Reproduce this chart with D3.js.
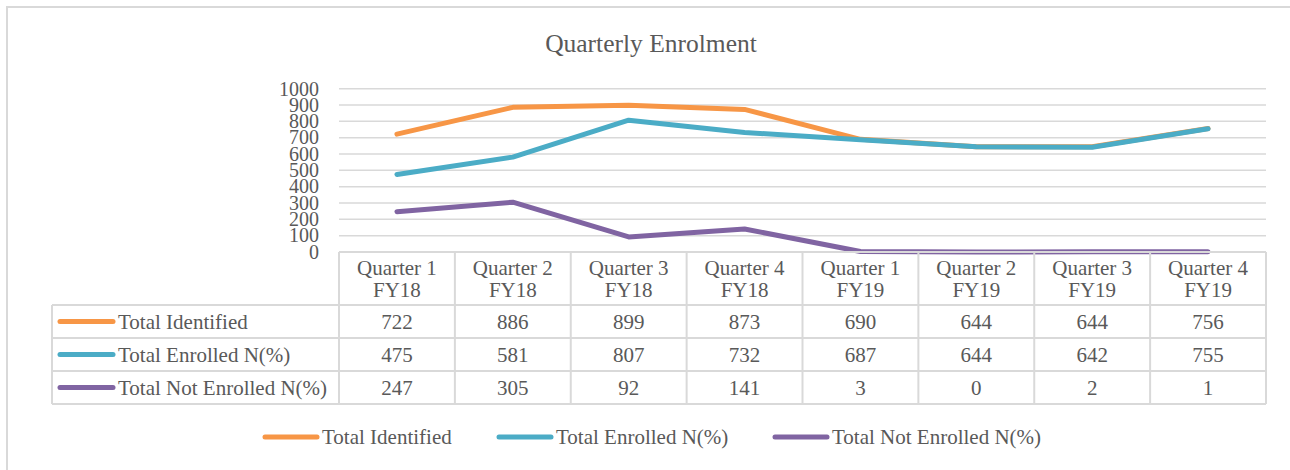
<!DOCTYPE html>
<html>
<head>
<meta charset="utf-8">
<script src="https://cdn.jsdelivr.net/npm/d3@7"></script>
<style>
  body { margin: 0; background: #fff; }
  svg { font-family: "Liberation Serif", "Times New Roman", serif; }
  text { fill: #595959; }
</style>
</head>
<body>
<svg class="chart" width="1290" height="470"></svg>
<script>
const quarters = ['Quarter 1', 'Quarter 2', 'Quarter 3', 'Quarter 4', 'Quarter 1', 'Quarter 2', 'Quarter 3', 'Quarter 4'];
const years = ['FY18', 'FY18', 'FY18', 'FY18', 'FY19', 'FY19', 'FY19', 'FY19'];
const categories = quarters.map((q, i) => q + ' ' + years[i]);

const seriesNames = ['Total Identified', 'Total Enrolled N(%)', 'Total Not Enrolled N(%)'];
const identified = [722, 886, 899, 873, 690, 644, 644, 756];
const enrolled = [475, 581, 807, 732, 687, 644, 642, 755];
const notEnrolled = [247, 305, 92, 141, 3, 0, 2, 1];
const yTicks = [0, 100, 200, 300, 400, 500, 600, 700, 800, 900, 1000];

const colors = ['#f79646', '#4bacc6', '#8064a2'];
const series = seriesNames.map((name, i) => ({ name, values: [identified, enrolled, notEnrolled][i], color: colors[i] }));

const svg = d3.select('.chart');
const grid = '#d9d9d9';

// outer frame
svg.append('rect')
  .attr('x', 7).attr('y', 7)
  .attr('width', 1300).attr('height', 480)
  .attr('fill', 'none').attr('stroke', grid).attr('stroke-width', 2);

svg.append('text')
  .attr('x', 651).attr('y', 52)
  .attr('text-anchor', 'middle')
  .style('font-size', '25.5px')
  .text('Quarterly Enrolment');

const x = d3.scaleBand().domain(categories).range([339, 1266]);
const y = d3.scaleLinear().domain([0, 1000]).range([252, 88.7]);

// gridlines + tick labels
svg.append('g')
  .selectAll('line')
  .data(yTicks.slice(1))
  .enter()
  .append('line')
  .attr('x1', 339).attr('x2', 1266)
  .attr('y1', d => y(d)).attr('y2', d => y(d))
  .attr('stroke', grid).attr('stroke-width', 1.5);

svg.append('g')
  .selectAll('text')
  .data(yTicks)
  .enter()
  .append('text')
  .attr('x', 319)
  .attr('y', d => y(d))
  .attr('dy', '0.34em')
  .attr('text-anchor', 'end')
  .style('font-size', '20px')
  .text(d => d);

// lines
const line = d3.line()
  .x((d, i) => x(categories[i]) + x.bandwidth() / 2)
  .y(d => y(d));

svg.append('g')
  .selectAll('path')
  .data(series)
  .enter()
  .append('path')
  .attr('d', d => line(d.values))
  .attr('fill', 'none')
  .attr('stroke', d => d.color)
  .attr('stroke-width', 5)
  .attr('stroke-linecap', 'round')
  .attr('stroke-linejoin', 'round');

// data table
const tableTop = 252;
const headerH = 53;
const rowH = 33;
const tableLeft = 52;
const table = svg.append('g');
const rowY = i => tableTop + headerH + i * rowH;

// horizontal rules
table.append('line')
  .attr('x1', 339).attr('x2', 1266)
  .attr('y1', tableTop).attr('y2', tableTop)
  .attr('stroke', grid).attr('stroke-width', 2);
table.selectAll('.hrule')
  .data([0, 1, 2, 3])
  .enter()
  .append('line')
  .attr('x1', tableLeft).attr('x2', 1266)
  .attr('y1', d => rowY(d)).attr('y2', d => rowY(d))
  .attr('stroke', grid).attr('stroke-width', 2);

// vertical rules
table.append('line')
  .attr('x1', tableLeft).attr('x2', tableLeft)
  .attr('y1', rowY(0)).attr('y2', rowY(3))
  .attr('stroke', grid).attr('stroke-width', 2);
table.selectAll('.vrule')
  .data(categories.concat(['end']))
  .enter()
  .append('line')
  .attr('x1', (d, i) => 339 + i * x.bandwidth())
  .attr('x2', (d, i) => 339 + i * x.bandwidth())
  .attr('y1', tableTop).attr('y2', rowY(3))
  .attr('stroke', grid).attr('stroke-width', 2);

// header
const header = table.selectAll('.head')
  .data(categories)
  .enter()
  .append('text')
  .attr('text-anchor', 'middle')
  .style('font-size', '21px');
header.append('tspan')
  .attr('x', d => x(d) + x.bandwidth() / 2)
  .attr('y', 275)
  .text((d, i) => quarters[i]);
header.append('tspan')
  .attr('x', d => x(d) + x.bandwidth() / 2)
  .attr('y', 297)
  .text((d, i) => years[i]);

// rows
series.forEach((s, r) => {
  const cy = rowY(r) + rowH / 2;
  table.append('line')
    .attr('x1', 60).attr('x2', 113)
    .attr('y1', cy).attr('y2', cy)
    .attr('stroke', s.color).attr('stroke-width', 5)
    .attr('stroke-linecap', 'round');
  table.append('text')
    .attr('x', 118).attr('y', cy)
    .attr('dy', '0.34em')
    .style('font-size', '21px')
    .text(s.name);
  table.append('g')
    .selectAll('text')
    .data(s.values)
    .enter()
    .append('text')
    .attr('x', (d, i) => x(categories[i]) + x.bandwidth() / 2)
    .attr('y', cy)
    .attr('dy', '0.34em')
    .attr('text-anchor', 'middle')
    .style('font-size', '21px')
    .text(d => d);
});

// legend
const legendX = [263, 497, 773];
const legend = svg.append('g')
  .selectAll('g')
  .data(series)
  .enter()
  .append('g')
  .attr('transform', (d, i) => `translate(${legendX[i]}, 437)`);
legend.append('line')
  .attr('x1', 2).attr('x2', 54)
  .attr('stroke', d => d.color).attr('stroke-width', 5)
  .attr('stroke-linecap', 'round');
legend.append('text')
  .attr('x', 59)
  .attr('dy', '0.34em')
  .style('font-size', '21px')
  .text(d => d.name);
</script>
</body>
</html>
